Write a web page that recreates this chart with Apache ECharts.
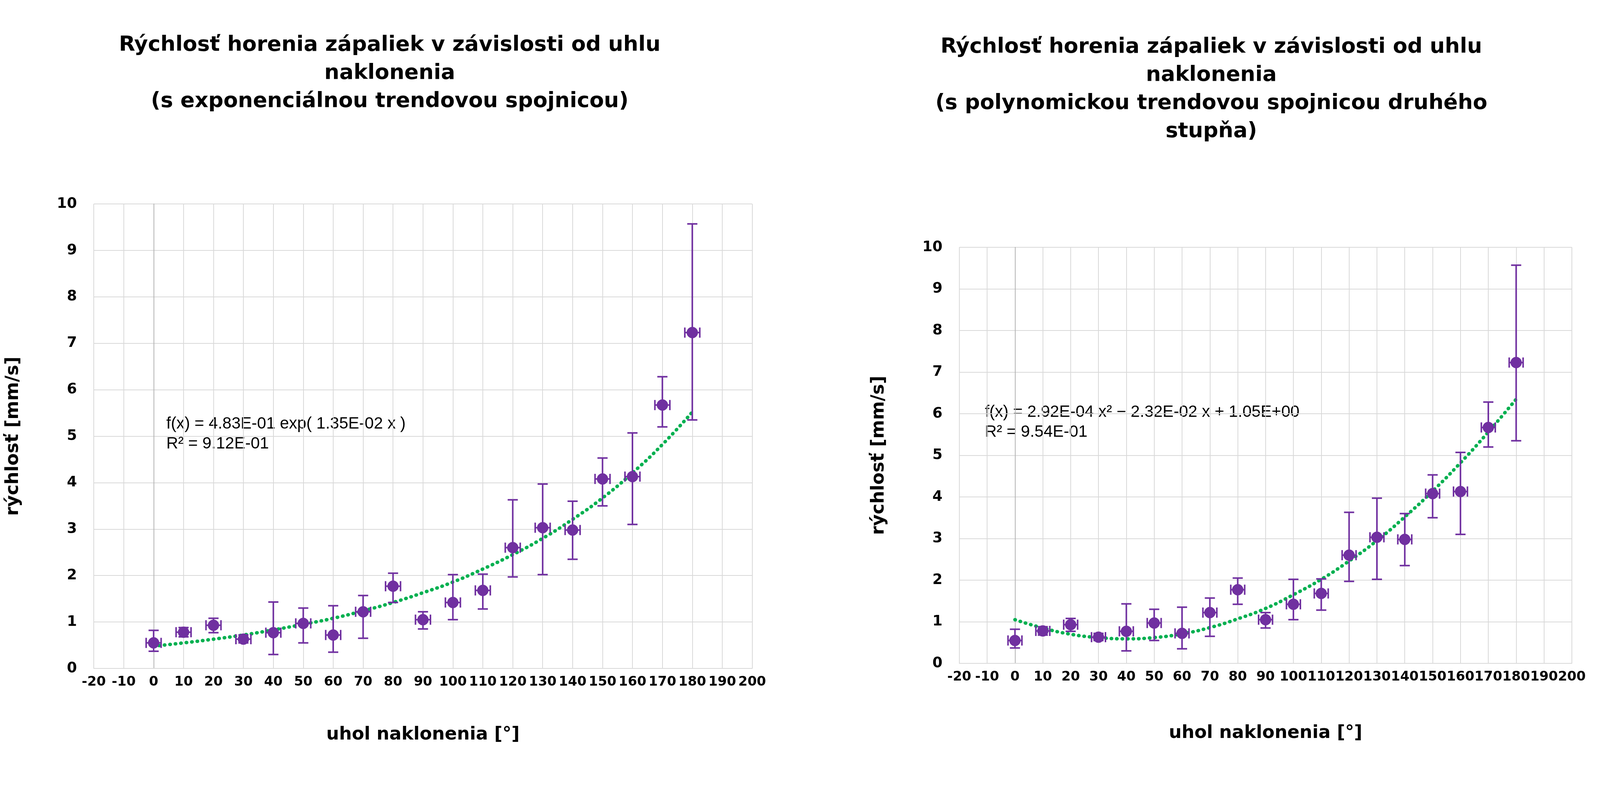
<!DOCTYPE html>
<html>
<head>
<meta charset="utf-8">
<script src="https://cdn.jsdelivr.net/npm/echarts@6/dist/echarts.min.js"></script>
<style>html,body{margin:0;padding:0;background:#fff;overflow:hidden}#c{width:100vw;height:100vh}</style>
</head>
<body>
<div id="c"></div>
<script>
// uhol naklonenia [°]
var angles = [0, 10, 20, 30, 40, 50, 60, 70, 80, 90, 100, 110, 120, 130, 140, 150, 160, 170, 180];
// rýchlosť [mm/s]
var speeds = [0.55, 0.78, 0.93, 0.63, 0.77, 0.97, 0.72, 1.22, 1.77, 1.05, 1.42, 1.68, 2.60, 3.03, 2.98, 4.08, 4.13, 5.67, 7.23];
var errLow = [0.37, 0.68, 0.77, 0.55, 0.30, 0.55, 0.35, 0.65, 1.42, 0.85, 1.05, 1.28, 1.97, 2.02, 2.35, 3.50, 3.10, 5.20, 5.35];
var errHigh = [0.82, 0.88, 1.08, 0.72, 1.43, 1.30, 1.35, 1.57, 2.05, 1.22, 2.02, 2.03, 3.63, 3.97, 3.60, 4.53, 5.07, 6.28, 9.57];
var xErr = 2.5;
// trendové spojnice (odčítané z obrázka)
var expTrend = [0.48, 0.55, 0.63, 0.72, 0.83, 0.95, 1.08, 1.24, 1.42, 1.63, 1.86, 2.14, 2.45, 2.80, 3.21, 3.67, 4.21, 4.82, 5.52];
var polyTrend = [1.05, 0.85, 0.70, 0.62, 0.59, 0.62, 0.71, 0.86, 1.07, 1.32, 1.65, 2.02, 2.46, 2.95, 3.52, 4.14, 4.82, 5.56, 6.35];

var titles = [
    'Rýchlosť horenia zápaliek v závislosti od uhlu\nnaklonenia\n(s exponenciálnou trendovou spojnicou)',
    'Rýchlosť horenia zápaliek v závislosti od uhlu\nnaklonenia\n(s polynomickou trendovou spojnicou druhého\nstupňa)'
];
var equations = [
    'f(x) = 4.83E-01 exp( 1.35E-02 x )\nR² = 9.12E-01',
    'f(x) = 2.92E-04 x² − 2.32E-02 x + 1.05E+00\nR² = 9.54E-01'
];

var purple = '#7030a0';
var green = '#00b050';
var font = 'DejaVu Sans';

var el = document.getElementById('c');
var W = el.clientWidth, H = el.clientHeight;
// layout designed for 6705x2058, scaled to the actual window
var sx = W / 6705, sy = H / 2058, s = Math.min(sx, sy);
function X(v) { return v * sx; }
function Y(v) { return v * sy; }
function F(v) { return Math.round(v * s); }

var grids = [
    {left: X(393), top: Y(522), width: X(2759), height: Y(1189)},
    {left: X(4020), top: Y(633), width: X(2567), height: Y(1065)}
];

function zip(a, b) { return a.map(function (v, i) { return [v, b[i]]; }); }

function errRender(params, api) {
    var x = api.value(0), lo = api.value(1), hi = api.value(2), y = api.value(3);
    var top = api.coord([x, hi]), bot = api.coord([x, lo]);
    var l = api.coord([x - xErr, y]), r = api.coord([x + xErr, y]);
    var cap = F(22);
    var st = {stroke: purple, lineWidth: F(6)};
    return {type: 'group', children: [
        {type: 'line', shape: {x1: top[0], y1: top[1], x2: bot[0], y2: bot[1]}, style: st},
        {type: 'line', shape: {x1: top[0] - cap, y1: top[1], x2: top[0] + cap, y2: top[1]}, style: st},
        {type: 'line', shape: {x1: bot[0] - cap, y1: bot[1], x2: bot[0] + cap, y2: bot[1]}, style: st},
        {type: 'line', shape: {x1: l[0], y1: l[1], x2: r[0], y2: r[1]}, style: st},
        {type: 'line', shape: {x1: l[0], y1: l[1] - cap, x2: l[0], y2: l[1] + cap}, style: st},
        {type: 'line', shape: {x1: r[0], y1: r[1] - cap, x2: r[0], y2: r[1] + cap}, style: st}
    ]};
}

var errData = angles.map(function (a, i) { return [a, errLow[i], errHigh[i], speeds[i]]; });
var trends = [expTrend, polyTrend];

var option = {
    animation: false,
    backgroundColor: '#fff',
    title: [
        {text: titles[0], left: X(1625), top: Y(75), textAlign: 'center',
         textStyle: {fontFamily: font, fontSize: F(88), fontWeight: 'bold', color: '#000', lineHeight: F(118)}},
        {text: titles[1], left: X(5068), top: Y(80), textAlign: 'center',
         textStyle: {fontFamily: font, fontSize: F(88), fontWeight: 'bold', color: '#000', lineHeight: F(118)}}
    ],
    graphic: [
        {type: 'text', left: X(697), top: Y(1060), style: {text: equations[0], font: F(68) + 'px "Liberation Sans"', fill: '#000', lineHeight: F(84)}},
        {type: 'text', left: X(4127), top: Y(1030), style: {text: equations[1], font: F(68) + 'px "Liberation Sans"', fill: '#000', lineHeight: F(84)}}
    ],
    grid: grids,
    xAxis: [0, 1].map(function (i) {
        return {
            gridIndex: i, type: 'value', min: -20, max: 200, interval: 10,
            name: 'uhol naklonenia [°]', nameLocation: 'middle', nameGap: F(i === 0 ? 240 : 255),
            nameTextStyle: {fontFamily: font, fontSize: F(76), fontWeight: 'bold', color: '#000'},
            axisLine: {show: true, onZero: false, lineStyle: {color: '#d9d9d9', width: F(4)}},
            axisTick: {show: false},
            axisLabel: {fontFamily: font, fontSize: F(56), fontWeight: 'bold', color: '#000', margin: F(30)},
            splitLine: {show: true, lineStyle: {color: '#d9d9d9', width: F(4)}}
        };
    }),
    yAxis: [0, 1].map(function (i) {
        return {
            gridIndex: i, type: 'value', min: 0, max: 10, interval: 1,
            name: 'rýchlosť [mm/s]', nameLocation: 'middle', nameGap: F(300),
            nameTextStyle: {fontFamily: font, fontSize: F(76), fontWeight: 'bold', color: '#000'},
            axisLine: {show: true, onZero: true, lineStyle: {color: '#b3b3b3', width: F(4)}},
            axisTick: {show: false},
            axisLabel: {fontFamily: font, fontSize: F(60), fontWeight: 'bold', color: '#000', margin: F(70)},
            splitLine: {show: true, lineStyle: {color: '#d9d9d9', width: F(4)}}
        };
    }),
    series: []
};

[0, 1].forEach(function (i) {
    option.series.push({
        type: 'line', xAxisIndex: i, yAxisIndex: i, data: zip(angles, trends[i]),
        smooth: true, symbol: 'none', z: 3,
        lineStyle: {color: green, width: F(14), type: [F(2), F(22)], cap: 'round'}
    });
    option.series.push({
        type: 'custom', xAxisIndex: i, yAxisIndex: i, data: errData,
        renderItem: errRender, z: 4
    });
    option.series.push({
        type: 'scatter', xAxisIndex: i, yAxisIndex: i, data: zip(angles, speeds),
        symbol: 'circle', symbolSize: F(48), z: 5, itemStyle: {color: purple, opacity: 1}
    });
});

var chart = echarts.init(el);
chart.setOption(option);
</script>
</body>
</html>
